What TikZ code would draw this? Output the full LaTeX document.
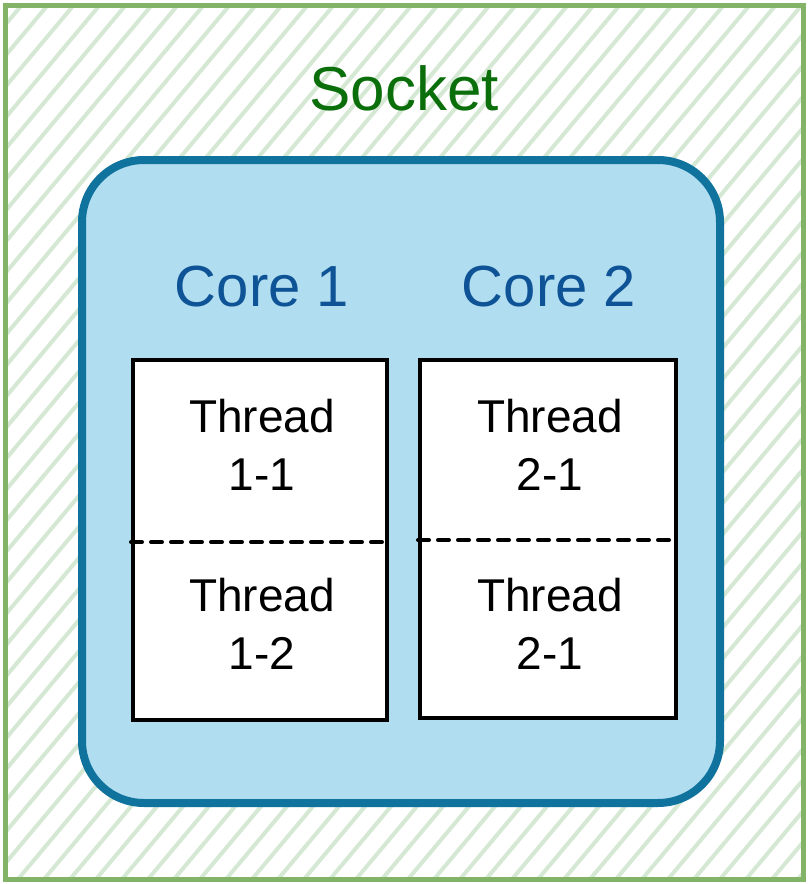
\documentclass[tikz,border=0pt]{standalone}
\usepackage{fontspec}
\setmainfont{Liberation Sans}
\usetikzlibrary{positioning}
\definecolor{sockline}{HTML}{82B366}
\definecolor{sockhatch}{HTML}{D5E8D4}
\definecolor{socktext}{HTML}{0A6E0A}
\definecolor{coreline}{HTML}{10739E}
\definecolor{corefill}{HTML}{B1DDF0}
\definecolor{coretext}{HTML}{0E5396}
\tikzset{
  socketbox/.style={draw=sockline, line width=5pt},
  hatch/.style={draw=sockhatch, line width=4pt, line cap=round},
  corebox/.style={draw=coreline, fill=corefill, line width=8pt, rounded corners=62pt},
  threadbox/.style={draw=black, fill=white, line width=4pt},
  splitline/.style={draw=black, line width=4pt, line cap=round, dash pattern=on 11pt off 9pt},
  sockettitle/.style={text=socktext, font=\fontsize{62}{70}\selectfont},
  coretitle/.style={text=coretext, font=\fontsize{58}{66}\selectfont},
  threadlabel/.style={align=center, font=\fontsize{46}{58}\selectfont}
}

\begin{document}
\begin{tikzpicture}[x=1pt, y=-1pt]
  \useasboundingbox (0,0) rectangle (808,884);

  % socket with hatched fill
  \begin{scope}
    \clip (5,5) rectangle (803,879);
    \foreach \a in {-740,-714,...,808}
      \draw[hatch] (\a,884) -- ++(740,-884);
  \end{scope}
  \draw[socketbox] (5,5) rectangle (803,879);
  \node[sockettitle] (socket) at (404,88) {Socket};

  % cores
  \draw[corebox] (82,160) rectangle (720,803);
  \node[coretitle] (core1) at (262,287) {Core 1};
  \node[coretitle] (core2) at (549,287) {Core 2};

  % thread boxes
  \node[threadbox, minimum width=254pt, minimum height=360pt] (box1) at (260,540) {};
  \node[threadbox, minimum width=256pt, minimum height=358pt] (box2) at (548,539) {};
  \draw[splitline] ([yshift=-2pt]box1.west) -- ([yshift=-2pt]box1.east);
  \draw[splitline] ([yshift=-1pt]box2.west) -- ([yshift=-1pt]box2.east);

  \node[threadlabel] (t11) at (262,445) {Thread\\1-1};
  \node[threadlabel] (t12) at (262,624) {Thread\\1-2};
  \node[threadlabel] (t21) at (550,445) {Thread\\2-1};
  \node[threadlabel] (t22) at (550,624) {Thread\\2-1};
\end{tikzpicture}
\end{document}
